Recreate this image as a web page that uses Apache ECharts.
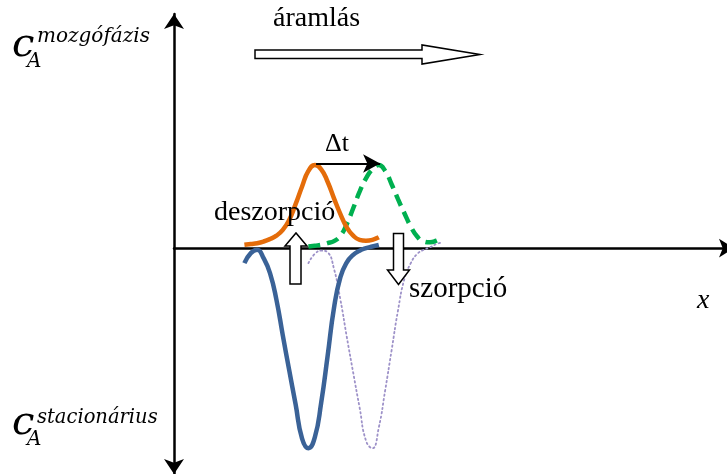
<!DOCTYPE html>
<html>
<head>
<meta charset="utf-8">
<script src="https://cdn.jsdelivr.net/npm/echarts@6/dist/echarts.min.js"></script>
<style>
html,body{margin:0;padding:0;background:#ffffff;}
#chart{width:727px;height:474px;}
</style>
</head>
<body>
<div id="chart"></div>
<script>
// positions along the column (arbitrary units)
const xFirst  = [11,12,13,14,15,16,17,18,19,20,21,22,23,24,25,26,27,28,29,30,31,32];
const xSecond = [21,22,23,24,25,26,27,28,29,30,31,32,33,34,35,36,37,38,39,40,41,42];

// concentration in the mobile phase (positive) and in the stationary phase (negative)
const mobileBefore     = [0.04,0.05,0.06,0.08,0.11,0.15,0.22,0.34,0.53,0.74,0.93,1.00,0.95,0.80,0.60,0.41,0.25,0.15,0.10,0.09,0.10,0.13];
const mobileAfter      = [0.02,0.03,0.04,0.06,0.085,0.15,0.29,0.48,0.68,0.84,0.95,1.00,0.93,0.77,0.59,0.42,0.26,0.14,0.08,0.07,0.09,0.13];
const stationaryBefore = [-0.18,-0.06,-0.02,-0.12,-0.30,-0.62,-1.05,-1.47,-1.88,-2.29,-2.41,-2.28,-1.86,-1.30,-0.72,-0.35,-0.17,-0.08,-0.03,0.00,0.02,0.04];
const stationaryAfter  = [-0.18,-0.07,-0.03,-0.05,-0.25,-0.62,-1.07,-1.50,-1.92,-2.32,-2.41,-2.16,-1.71,-1.23,-0.75,-0.37,-0.18,-0.07,-0.02,0.01,0.05,0.07];

// shift arrow (from peak to peak)
const shiftFrom = [22.2, 1.02];
const shiftTo   = [32.2, 1.02];

const txtFlow   = 'áramlás';
const txtShift  = 'Δt';
const txtDes    = 'deszorpció';
const txtSorp   = 'szorpció';
const txtX      = 'x';
const txtC      = 'c';
const txtA      = 'A';
const txtMobile = 'mozgófázis';
const txtStat   = 'stacionárius';

function pairs(xs, ys){ return xs.map((x,i)=>[x, ys[i]]); }

const chart = echarts.init(document.getElementById('chart'), null, {renderer:'canvas'});

const serif = '"Liberation Serif", "Times New Roman", serif';
const math  = '"DejaVu Serif", serif';

const option = {
  animation: false,
  backgroundColor: '#ffffff',
  grid: {left: 174, right: -7, top: 14, bottom: 0, containLabel: false, outerBoundsMode: 'none'},
  xAxis: {
    type: 'value', min: 0, max: 87.5,
    axisLine: {show: true, onZero: true, symbol: ['none','arrow'], symbolSize: [14, 15],
      lineStyle: {color: '#000', width: 2.5}},
    axisTick: {show: false}, axisLabel: {show: false}, splitLine: {show: false}
  },
  yAxis: {
    type: 'value', min: -2.72, max: 2.82,
    axisLine: {show: true, onZero: true, symbol: ['arrow','arrow'], symbolSize: [15, 15],
      lineStyle: {color: '#000', width: 2.5}},
    axisTick: {show: false}, axisLabel: {show: false}, splitLine: {show: false}
  },
  series: [
    {
      type: 'line', data: pairs(xSecond, stationaryAfter), smooth: 0.5, symbol: 'none', z: 2,
      lineStyle: {color: '#9d91c8', width: 1.8, type: [1.5, 3], cap: 'round'}
    },
    {
      type: 'line', data: pairs(xFirst, stationaryBefore), smooth: 0.5, symbol: 'none', z: 3,
      lineStyle: {color: '#3a6297', width: 4.5}
    },
    {
      type: 'line', data: pairs(xSecond, mobileAfter), smooth: 0.5, symbol: 'none', z: 3,
      lineStyle: {color: '#00b050', width: 4.5, type: [12, 7]}
    },
    {
      type: 'line', data: pairs(xFirst, mobileBefore), smooth: 0.5, symbol: 'none', z: 4,
      lineStyle: {color: '#e46c0a', width: 4.5},
      markLine: {
        silent: true, symbol: ['none','arrow'], symbolSize: [14, 17],
        label: {show: false},
        lineStyle: {color: '#000', width: 2, type: 'solid'},
        data: [[{coord: shiftFrom}, {coord: shiftTo}]]
      }
    }
  ],
  graphic: [
    {type:'polygon', z: 100, shape:{points:[[255,50],[422,50],[422,45],[480,54.5],[422,64],[422,58.5],[255,58.5]]},
      style:{fill:'#fff', stroke:'#000', lineWidth:1.5}},
    {type:'polygon', z: 100, shape:{points:[[290,284],[290,246],[285,246],[296,233],[307,246],[301,246],[301,284]]},
      style:{fill:'#fff', stroke:'#000', lineWidth:1.5}},
    {type:'polygon', z: 100, shape:{points:[[393.5,233.5],[403.5,233.5],[403.5,270],[409.5,270],[398.5,284.5],[387.5,270],[393.5,270]]},
      style:{fill:'#fff', stroke:'#000', lineWidth:1.5}},
    {type:'text', z: 101, x: 273, y: 19, style:{text: txtFlow, font: '28px ' + serif, fill:'#000', verticalAlign:'middle'}},
    {type:'text', z: 101, x: 325, y: 144, style:{text: txtShift, font: '26px ' + serif, fill:'#000', verticalAlign:'middle'}},
    {type:'text', z: 101, x: 214, y: 213, style:{text: txtDes, font: '28px ' + serif, fill:'#000', verticalAlign:'middle'}},
    {type:'text', z: 101, x: 409, y: 289, style:{text: txtSorp, font: '29px ' + serif, fill:'#000', verticalAlign:'middle'}},
    {type:'text', z: 101, x: 697, y: 301, style:{text: txtX, font: 'italic 28px ' + serif, fill:'#000', verticalAlign:'middle'}},
    {type:'text', z: 101, x: 12, y: 46, style:{text: txtC, font: 'italic 40px ' + math, fill:'#000', verticalAlign:'middle'}},
    {type:'text', z: 101, x: 27, y: 62, style:{text: txtA, font: 'italic 20px ' + math, fill:'#000', verticalAlign:'middle'}},
    {type:'text', z: 101, x: 37, y: 37, style:{text: txtMobile, font: 'italic 20px ' + math, fill:'#000', verticalAlign:'middle'}},
    {type:'text', z: 101, x: 12, y: 424, style:{text: txtC, font: 'italic 40px ' + math, fill:'#000', verticalAlign:'middle'}},
    {type:'text', z: 101, x: 27, y: 440, style:{text: txtA, font: 'italic 20px ' + math, fill:'#000', verticalAlign:'middle'}},
    {type:'text', z: 101, x: 37, y: 418, style:{text: txtStat, font: 'italic 19.5px ' + math, fill:'#000', verticalAlign:'middle'}}
  ]
};
chart.setOption(option);
</script>
</body>
</html>
